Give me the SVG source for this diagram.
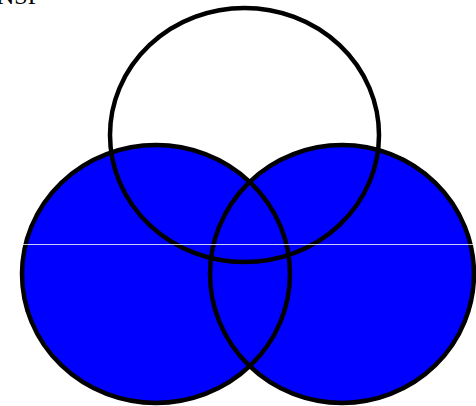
<svg xmlns="http://www.w3.org/2000/svg" width="476" height="406" viewBox="0 0 476 406">
<style>
.o{fill:none;stroke:#000;stroke-width:4.5}
.b{fill:#0000ff;stroke:none}
.t{font-family:"Liberation Serif",serif;font-size:24px;fill:#000}
</style>
<rect width="476" height="406" fill="#fff"/>
<text class="t" x="-3" y="4">NSP</text>
<g id="fills">
<ellipse class="b" cx="156" cy="274" rx="134" ry="129"/>
<ellipse class="b" cx="342" cy="274" rx="132" ry="129"/>
</g>
<g id="top"><ellipse class="o" cx="244.5" cy="135" rx="134.5" ry="127"/></g>
<g id="left"><ellipse class="o" cx="156" cy="274" rx="134" ry="129"/></g>
<g id="right"><ellipse class="o" cx="342" cy="274" rx="132" ry="129"/></g>
<g id="connectors"><line x1="0" y1="244.5" x2="476" y2="244.5" stroke="#fff" stroke-opacity="0.8" stroke-width="1"/></g>
</svg>
